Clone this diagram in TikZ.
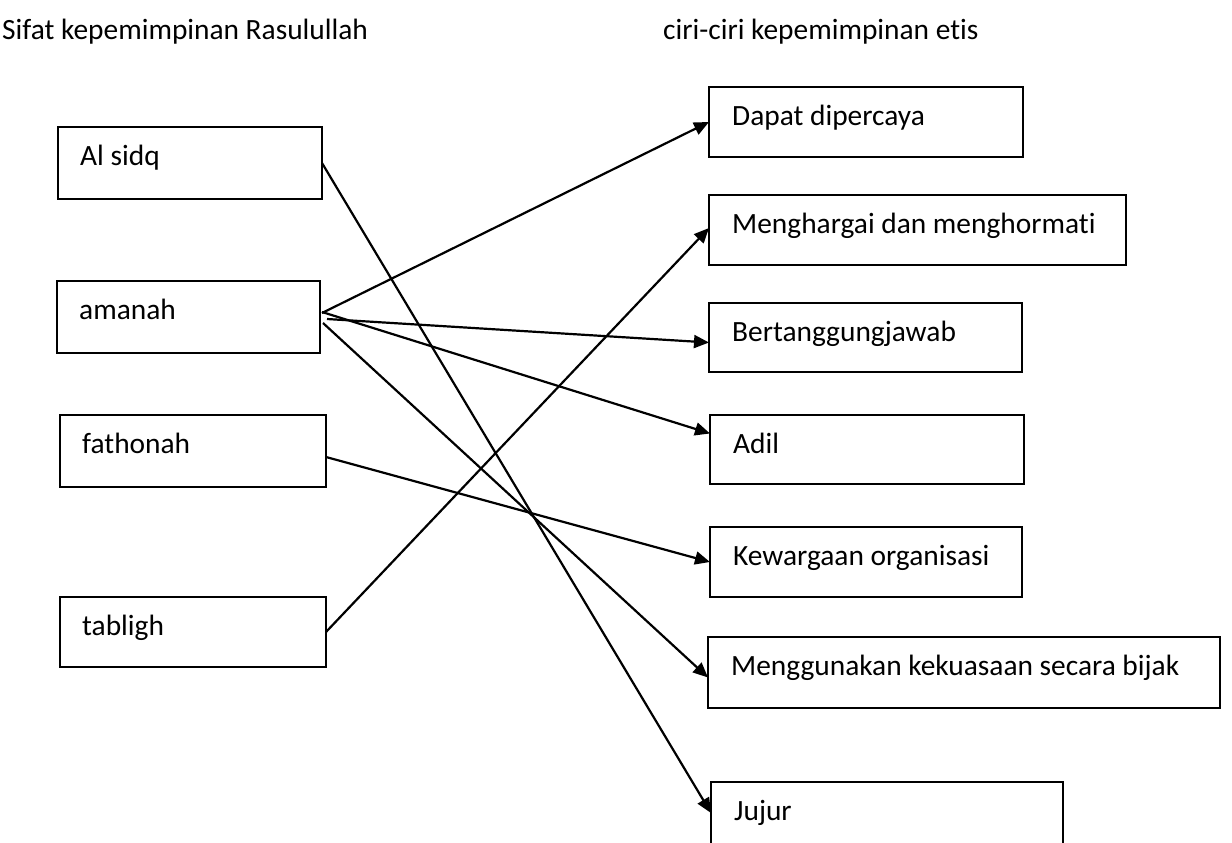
\documentclass[tikz,border=0pt]{standalone}
\usepackage{fontspec}
\setmainfont{Carlito}[RawFeature={-liga}]
\usetikzlibrary{arrows.meta,calc}
\begin{document}
\begin{tikzpicture}[x=1pt,y=-1pt,
  box/.style={draw,line width=2pt,anchor=north west,inner sep=0pt,outer sep=0pt},
  txt/.style={anchor=base west,inner sep=0pt,font=\fontsize{29.4}{35}\selectfont},
  conn/.style={line width=2.2pt,-{Triangle[length=15pt,width=13pt]}}]
\clip (0,0) rectangle (1232,843);
\fill[white] (0,0) rectangle (1232,843);
% titles
\node[txt] (title1) at (2,40) {Sifat kepemimpinan Rasulullah};
\node[txt] (title2) at (663,40) {ciri-ciri kepemimpinan etis};
% left boxes
\node[box,minimum width=264pt,minimum height=72pt] (alsidq) at (58,127) {};
\node[box,minimum width=263pt,minimum height=72pt] (amanah) at (57,281) {};
\node[box,minimum width=266pt,minimum height=72pt] (fathonah) at (60,415) {};
\node[box,minimum width=266pt,minimum height=70pt] (tabligh) at (60,597) {};
\node[txt] (t1) at ($(alsidq.north west)+(22,38)$) {Al sidq};
\node[txt] (t2) at ($(amanah.north west)+(22,38)$) {amanah};
\node[txt] (t3) at ($(fathonah.north west)+(22,38)$) {fathonah};
\node[txt] (t4) at ($(tabligh.north west)+(22,38)$) {tabligh};
% right boxes
\node[box,minimum width=314pt,minimum height=70pt] (dapat) at (709,87) {};
\node[box,minimum width=417pt,minimum height=70pt] (menghargai) at (709,195) {};
\node[box,minimum width=313pt,minimum height=69pt] (bertanggung) at (709,303) {};
\node[box,minimum width=314pt,minimum height=69pt] (adil) at (710,415) {};
\node[box,minimum width=312pt,minimum height=70pt] (kewargaan) at (710,527) {};
\node[box,minimum width=512pt,minimum height=71pt] (menggunakan) at (708,637) {};
\node[box,minimum width=352pt,minimum height=100pt] (jujur) at (711,782) {};
\node[txt] (r1) at ($(dapat.north west)+(23,38)$) {Dapat dipercaya};
\node[txt] (r2) at ($(menghargai.north west)+(23,38)$) {Menghargai dan menghormati};
\node[txt] (r3) at ($(bertanggung.north west)+(23,38)$) {Bertanggungjawab};
\node[txt] (r4) at ($(adil.north west)+(23,38)$) {Adil};
\node[txt] (r5) at ($(kewargaan.north west)+(23,38)$) {Kewargaan organisasi};
\node[txt] (r6) at ($(menggunakan.north west)+(23,38)$) {Menggunakan kekuasaan secara bijak};
\node[txt] (r7) at ($(jujur.north west)+(23,38)$) {Jujur};
% connectors
\draw[conn] (alsidq.east) -- ($(jujur.north west)+(0,31)$);
\draw[conn] ($(amanah.east)+(2,-4)$) -- (dapat.west);
\draw[conn] ($(amanah.east)+(7,2)$) -- ($(bertanggung.west)+(0,5)$);
\draw[conn] ($(amanah.east)+(2,-5)$) -- ($(adil.west)+(0,-16)$);
\draw[conn] ($(amanah.east)+(3,6)$) -- ($(menggunakan.west)+(0,5)$);
\draw[conn] ($(fathonah.east)+(0,6)$) -- (kewargaan.west);
\draw[conn] (tabligh.east) -- ($(menghargai.west)+(0,-2)$);
\end{tikzpicture}
\end{document}
